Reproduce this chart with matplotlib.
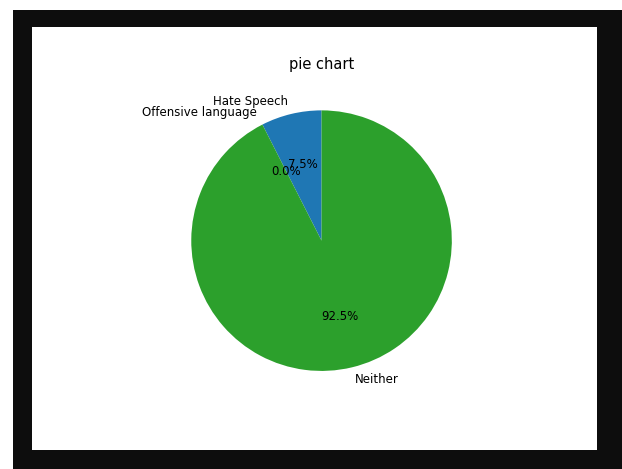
import matplotlib
matplotlib.use("Agg")
import matplotlib.pyplot as plt
from matplotlib.patches import Rectangle

labels = ["Hate Speech", "Offensive language", "Neither"]
values = [7.5, 0.0, 92.5]
title = "pie chart"

W, H = 622, 469
fig = plt.figure(figsize=(W / 100, H / 100), dpi=100)
fig.patch.set_facecolor("white")

def fx(x):
    return x / W

def fy(y):
    return 1 - y / H

# black frame
fig.patches.append(Rectangle((fx(13), 0), 1 - fx(13), fy(10), transform=fig.transFigure,
                             facecolor="#0d0d0d", edgecolor="none", zorder=-2))
# inner white figure
fig.patches.append(Rectangle((fx(32), fy(450)), fx(597) - fx(32), fy(27) - fy(450),
                             transform=fig.transFigure, facecolor="white", edgecolor="none", zorder=-1))

ax = fig.add_axes([fx(102.6), fy(403.5), fx(540.5) - fx(102.6), fy(77.8) - fy(403.5)])
ax.set_zorder(5)
ax.patch.set_alpha(0)
ax.pie(values, labels=labels, autopct="%1.1f%%", startangle=90,
       textprops={"fontsize": 8.5})
ax.set_title(title, fontsize=10.5)

fig.savefig("out.png", dpi=100)
